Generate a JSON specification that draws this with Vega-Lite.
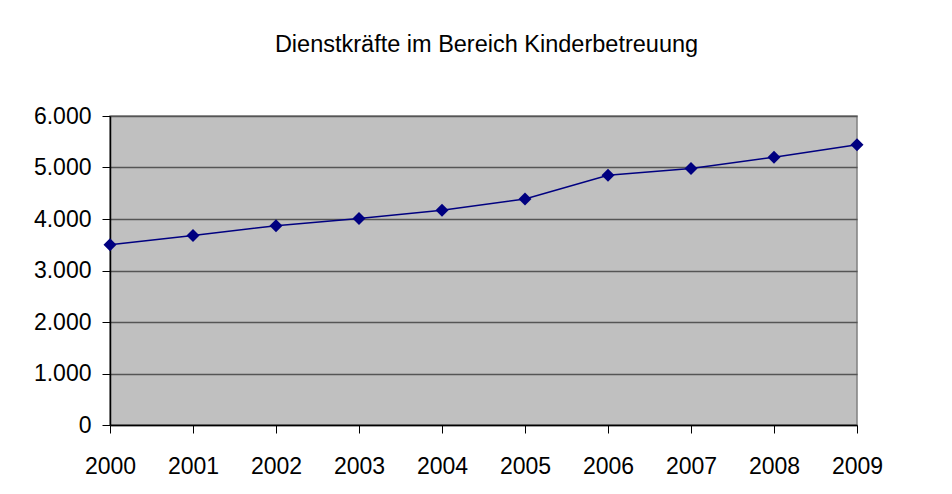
{
  "$schema": "https://vega.github.io/schema/vega-lite/v6.json",
  "width": 747,
  "height": 309,
  "padding": {"left": 33, "top": 32, "right": 60, "bottom": 10},
  "background": "white",
  "title": {
    "text": "Dienstkräfte im Bereich Kinderbetreuung",
    "font": "Liberation Sans",
    "fontSize": 23.5,
    "fontWeight": "normal",
    "color": "black",
    "anchor": "middle",
    "offset": 49,
    "dx": 3
  },
  "config": {
    "view": {"fill": "#c0c0c0", "stroke": "#808080", "strokeWidth": 1.5},
    "axis": {
      "labelFont": "Liberation Sans",
      "labelFontSize": 23,
      "labelColor": "black",
      "domainColor": "black",
      "domainWidth": 1.5,
      "tickColor": "black",
      "tickWidth": 1,
      "titleFontSize": 0
    }
  },
  "data": {
    "values": [
      {"Jahr": 2000, "Dienstkraefte": 3500},
      {"Jahr": 2001, "Dienstkraefte": 3680},
      {"Jahr": 2002, "Dienstkraefte": 3870},
      {"Jahr": 2003, "Dienstkraefte": 4010},
      {"Jahr": 2004, "Dienstkraefte": 4170},
      {"Jahr": 2005, "Dienstkraefte": 4390},
      {"Jahr": 2006, "Dienstkraefte": 4850},
      {"Jahr": 2007, "Dienstkraefte": 4980},
      {"Jahr": 2008, "Dienstkraefte": 5200},
      {"Jahr": 2009, "Dienstkraefte": 5440}
    ]
  },
  "encoding": {
    "x": {
      "field": "Jahr",
      "type": "quantitative",
      "scale": {"domain": [2000, 2009], "nice": false, "zero": false},
      "axis": {
        "title": null,
        "values": [2000, 2001, 2002, 2003, 2004, 2005, 2006, 2007, 2008, 2009],
        "format": "d",
        "grid": false,
        "tickSize": 8,
        "labelPadding": 22,
        "labelFlush": false,
        "labelOverlap": false
      }
    },
    "y": {
      "field": "Dienstkraefte",
      "type": "quantitative",
      "scale": {"domain": [0, 6000], "nice": false},
      "axis": {
        "title": null,
        "values": [0, 1000, 2000, 3000, 4000, 5000, 6000],
        "labelExpr": "replace(format(datum.value, ',d'), ',', '.')",
        "grid": true,
        "gridColor": "#555555",
        "gridWidth": 1.5,
        "gridOpacity": 1,
        "tickSize": 8,
        "labelPadding": 11,
        "labelFlush": false
      }
    }
  },
  "layer": [
    {"mark": {"type": "line", "color": "#000080", "strokeWidth": 1.5}},
    {"mark": {"type": "point", "shape": "diamond", "filled": true, "color": "#000080", "opacity": 1, "size": 170}}
  ]
}
